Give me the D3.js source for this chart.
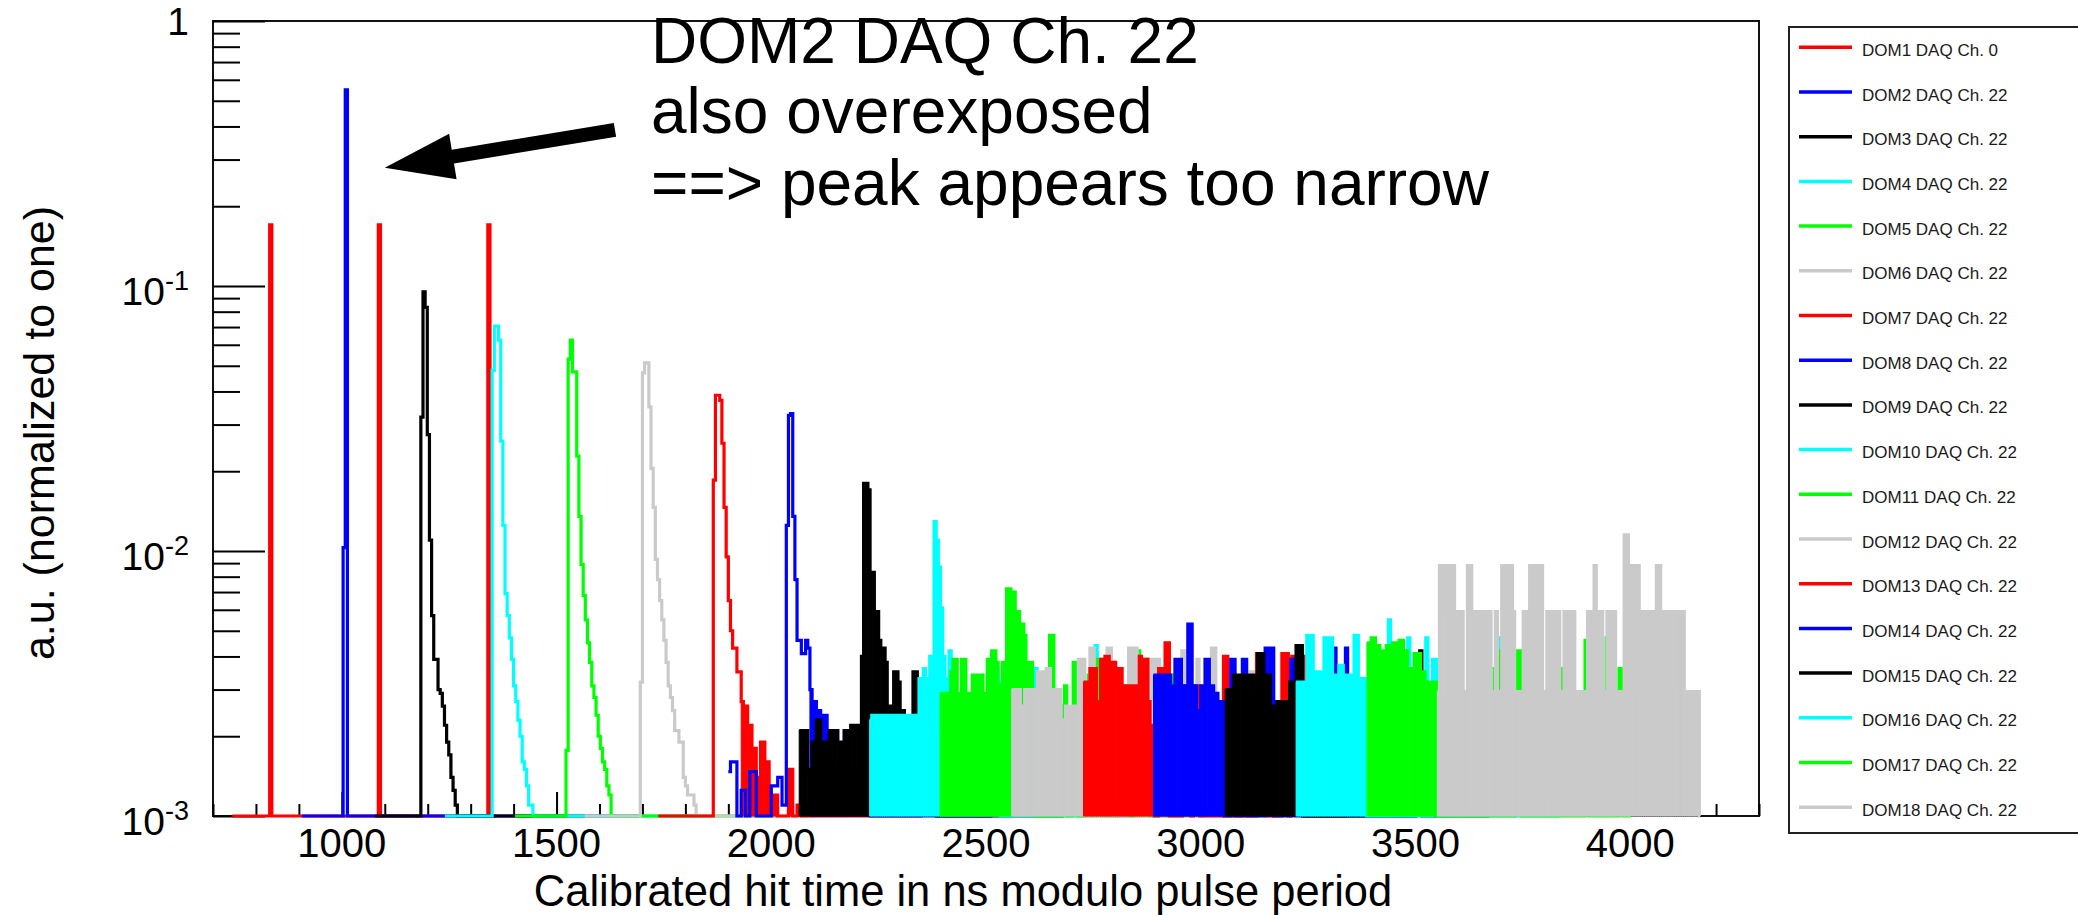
<!DOCTYPE html>
<html><head><meta charset="utf-8">
<script src="https://cdn.jsdelivr.net/npm/d3@7"></script>
<style>
html,body{margin:0;padding:0;background:#fff;}
svg{display:block;}
text{font-family:"Liberation Sans", Arial, Helvetica, sans-serif;}
</style></head><body>
<svg id="chart" width="2078" height="915"></svg>
<script>
// ---------------- DATA ----------------
const LEGEND_LABELS = ["DOM1 DAQ Ch. 0","DOM2 DAQ Ch. 22","DOM3 DAQ Ch. 22","DOM4 DAQ Ch. 22","DOM5 DAQ Ch. 22","DOM6 DAQ Ch. 22","DOM7 DAQ Ch. 22","DOM8 DAQ Ch. 22","DOM9 DAQ Ch. 22","DOM10 DAQ Ch. 22","DOM11 DAQ Ch. 22","DOM12 DAQ Ch. 22","DOM13 DAQ Ch. 22","DOM14 DAQ Ch. 22","DOM15 DAQ Ch. 22","DOM16 DAQ Ch. 22","DOM17 DAQ Ch. 22","DOM18 DAQ Ch. 22"];
const X_DOMAIN = [700, 4300];
const Y_DOMAIN = [1e-3, 1];
const X_TICK_LABELS = [1000, 1500, 2000, 2500, 3000, 3500, 4000];
const Y_TICK_LABELS = [[1, "1", ""], [0.1, "10", "-1"], [0.01, "10", "-2"], [0.001, "10", "-3"]];
const BIN_WIDTH = 5; // ns
// histogram x-range of each DOM [from, to] in ns
const RANGES = [[745,1360],[907,1522],[1077,1692],[1240,1855],[1403,2018],[1566,2181],[1737,2352],[1900,2515],[2065,2680],[2229,2844],[2393,3008],[2560,3175],[2727,3342],[2890,3505],[3057,3672],[3222,3837],[3387,4002],[3551,4163]];
// bin contents (a.u.): [first bin start ns, [values of consecutive 5 ns bins]]; bins not listed are empty
const DOM1 = [[832,[0.17]],[1085,[0.17]],[1340,[0.17]]];
const DOM2 = [[1003,[0.0103,0.55]]];
const DOM3 = [[1184,[0.032,0.095,0.083,0.0275,0.011,0.0057,0.0039,0.0039,0.0030,0.0029,0.0026,0.0022,0.0019,0.0017,0.0014,0.00125,0.0011]]];
const DOM4 = [[1350,[0.048,0.0706,0.0706,0.0625,0.026,0.0125,0.0069,0.0057,0.0047,0.0039,0.0031,0.0027,0.0023,0.0020,0.0016,0.0015,0.0013,0.0011,0.0011]]];
const DOM5 = [[1522,[0.00177,0.053,0.0625,0.0474,0.0474,0.0228,0.0135,0.0089,0.0068,0.0055,0.0045,0.0038,0.0031,0.0028,0.0024,0.0020,0.0018,0.0016,0.0015,0.0013,0.0012]]];
const DOM6 = [[1695,[0.0032,0.047,0.0513,0.0513,0.035,0.0205,0.0146,0.0093,0.0078,0.0065,0.0055,0.0046,0.0038,0.0031,0.0028,0.0025,0.0021,0.0021,0.0019,0.0019,0.0014,0.0013,0.0012,0.0012,0.0012,0.0011]]];
const DOM7 = [[1865,[0.0185,0.0387,0.0387,0.037,0.0255,0.0146,0.0095,0.0065,0.0050,0.0043,0.0043,0.0035,0.0035,0.0027,0.0026,0.0026,0.0022,0.0022,0.0018,0.0018,0.0014,0.0014,0.0019,0.0019,0.0016,0.0016,0.0012,0.0012,0.0012,0.0012]],[2040,[0.0015,0.0015,0,0,0.0011,0.0011]]];
const DOM8 = [[1900,[0.00147,0.0016,0.0016,0.0016,0,0,0.00125,0.00125,0,0,0.00147,0.00147,0.00147]],
  [2000,[0.0013,0.0013,0.0013,0.0014,0.0014,0.0011,0.0011,0.0125,0.0325,0.033,0.0135,0.0078,0.0046,0.0046,0.0041,0.0041,0.0046,0.0043,0.0030,0.0027,0.0027,0.0025,0.0025,0.0024,0.0024,0.0024,0.0018,0.0018,0.0016,0.0015,0.0015,0.0015,0.0015,0.0015,0.0021,0.0021,0.0015,0.0015,0.0015,0.0015,0.0015,0.0015,0.0021,0.0021,0.0021,0.0021]]];
const DOM9 = [[2065,[0.0021,0.0021,0.0021,0.0021,0.0015,0.0015,0.0019,0.0019,0.0023,0.0023,0.0019,0.0019,0.0019,0.0019,0.0021,0.0021,0.0019,0.0021,0.0019,0.0019,0.0019,0.0021,0.0021,0.0021,0.0022,0.0022,0.0022,0.0022,0.0022,0.0040,0.018,0.018,0.017,0.0083,0.0083,0.0059,0.0059,0.0046,0.0043,0.0043,0.0038,0.0026,0.0026,0.0025,0.0035,0.0035,0.0032,0.0025,0.0025,0.0021,0.0023,0.0023,0.0023,0.0035,0.0035,0.0021,0.0021,0.0021,0.0021,0.0021,0.0021,0.0021,0.0021,0.0021]]];
const DOM10 = [[2229,[0.0023,0.0024,0.0024,0.0021,0.0024,0.0024,0.0024,0.0022,0.0024,0.0024,0.0024,0.0024,0.0024,0.0021,0.0024,0.0024,0.0024,0.0024,0.0024,0.0024,0.0024,0.0021,0.0024,
  0.0033,0.0033,0.0036,0.0033,0.0033,0.0040,0.0040,0.0129,0.0110,0.0087,0.0061,0.0040,0.0033,0.0030,0.0042,0.0033,0.0030,
  0.0025,0.0025,0.0025,0.0025,0.0025,0.0025,0.0025,0.0025,0.0025,0.0025,0.0025,0.0025,0.0025,0.0025,0.0025,0.0025,0.0025,0.0025,0.0025,0.0036,0.0032]],[2614,[0.0036]],[2754,[0.0044]]];
const DOM11 = [[2393,[0.0029,0.0029,0.0029,0.0029,0.0029,0.0035,0.0039,0.0039,0.0029,0.0029,0.0039,0.0039,0.0029,0.0029,0.0029,0.0034,0.0029,0.0034,0.0029,0.0034,0.0029,0.0029,0.0039,0.0038,0.0042,0.0042,0.0038,0.0031,0.0031,0.0038,0.0038,0.0072,0.0072,0.0070,0.0070,0.0059,0.0059,0.0053,0.0053,0.0048,0.0038,0.0038,0.0038,0.0025]],
  [2648,[0.0048,0.0048]],[2678,[0.0026,0.0031]],[2703,[0.0038,0.0038]],[2738,[0.0034,0.0034]],[2758,[0.0039,0.0039]],[2788,[0.0038,0.0038]],[2818,[0.0031,0.0031]],[2853,[0.0042]],[2868,[0.0039,0.0039]],[2932,[0.0034]]];
const DOM12 = [[2560,[0.0030,0.0030,0.0030,0.0030,0.0026,0.0026,0.0030,0.0030,0.0030,0.0030,0.0030,0.0030,0.0035,0.0035,0.0035,0.0035,0.0036,0.0036,0.0026,0.0030,0.0026,0.0030,0.0030,0.0023,0.0023,0.0026,0.0026,0.0026,0.0026,0.0026,0.0026,0.0039,0.0039,0.0039]],
  [2742,[0.0043,0.0043]],[2782,[0.0043,0.0043]],[2832,[0.0043,0.0043,0.0043,0.0043]],[2874,[0.0039,0.0039,0.0039,0.0039,0.0039,0.0039]],[2956,[0.0042,0.0042]],[2991,[0.0039]],[3025,[0.0043,0.0043]],[3115,[0.0035,0.0035,0.0035]]];
const DOM13 = [[2727,[0.0032,0.0032,0.0032,0.0036,0.0036,0.0036,0.0027,0.0027,0.0039,0.0039,0.0040,0.0040,0.0034,0.0038,0.0038,0.0031,0.0036,0.0036,0.0029,0.0031,0.0031,0.0031,0.0027,0.0031,0.0031,0.0031,0.0040,0.0039,0.0039,0.0039,0.0027,0.0022,0.0022]],
  [2902,[0.0036,0.0036,0.0036,0.0045,0.0045]],[2957,[0.0031,0.0031,0.0031,0.0031]],[2983,[0.0031,0.0031,0.0031]],[3053,[0.0040,0.0040]],[3130,[0.0041,0.0041,0.0041,0.0041,0.0041]],[3189,[0.0041,0.0041,0.0041]],[3212,[0.0040,0.0040,0.0040,0.0040,0.0040,0.0040]]];
const DOM14 = [[2890,[0.0034,0.0034,0.0034,0.0034,0.0034,0.0034,0.0034,0.0034,0.0031,0.0031,0.0039,0.0039,0.0039,0.0031,0.0031,0.0031,0.0053,0.0053,0.0031,0.0031,0.0025,0.0025,0.0031,0.0031,0.0039,0.0039,0.0031,0.0031,0.0029,0.0029,0.0027,0.0027,0.0027]],
  [3070,[0.0039,0.0039]],[3097,[0.0039,0.0039]],[3150,[0.0043,0.0043,0.0043,0.0043]],[3210,[0.0039,0.0039]],[3310,[0.0043]],[3337,[0.0043]]];
const DOM15 = [[3057,[0.0030,0.0030,0.0030,0.0030,0.0034,0.0034,0.0034,0.0034,0.0034,0.0034,0.0034,0.0034,0.0034,0.0034,0.0034,0.0041,0.0041,0.0041,0.0034,0.0034,0.0034,0.0026,0.0026,0.0026,0.0027,0.0027,0.0027,0.0027,0.0027,0.0027,0.0032,0.0032,0.0032,0.0044,0.0044,0.0044]],
  [3375,[0.0030]],[3500,[0.0036,0.0036,0.0042]]];
const DOM16 = [[3222,[0.0032,0.0032,0.0032,0.0032,0.0032,0.0048,0.0048,0.0048,0.0035,0.0035,0.0035,0.0035,0.0035,0.0047,0.0047,0.0047,0.0047,0.0034,0.0034,0.0034,0.0037,0.0037,0.0034,0.0034,0.0034,0.0034,0.0034,0.0048,0.0048,0.0033,0.0033,0.0033,0.0033]],
  [3437,[0.0055]],[3482,[0.0047]],[3524,[0.0047]],[3540,[0.0039,0.0039]],[3697,[0.0047]],[3764,[0.0039]],[3782,[0.0055]],[3808,[0.0033]]];
const DOM17 = [[3387,[0.0045,0.0045,0.0047,0.0047,0.0044,0.0044,0.0042,0.0042,0.0042,0.0044,0.0044,0.0044,0.0045,0.0045,0.0041,0.0046,0.0046,0.0042,0.0042,0.0036,0.0036,0.0036,0.0041,0.0041,0.0041,0.0035,0.0035,0.0032,0.0032,0.0032,0.0032,0.0032,0.0032]],
  [3683,[0.0036]],[3696,[0.0042]],[3732,[0.0042,0.0042,0.0042]],[3841,[0.0036]],[3895,[0.0046,0.0046]],[3944,[0.0047]],[3974,[0.0036,0.0036]]];
const DOM18 = [[3551,[
  0.00295,0.0088,0.0088,0.0088,0.0059,0.0088,0.0088,0.0088,0.0059,0.0059,
  0.0059,0.0059,0.00295,0.00295,0.0088,0.0088,0.0059,0.0059,0.0059,0.0059,
  0.0059,0.0059,0.00295,0.0059,0.0059,0.00295,0.00295,0.0059,0.00295,0.00295,
  0.0088,0.0088,0.00295,0.0088,0.0088,0.0059,0.00295,0.00295,0.00295,0.00295,
  0.0059,0.0059,0.00295,0.0088,0.0088,0.0088,0.00295,0.0088,0.0088,0.00295,
  0.00295,0.0059,0.0059,0.0059,0.00295,0.0059,0.0059,0.00295,0.00295,0.0059,
  0.0059,0.00295,0.0059,0.0059,0.00295,0.00295,0.00295,0.00295,0.00295,0.00295,
  0.0059,0.0059,0.0059,0.0088,0.0059,0.0059,0.0059,0.00295,0.00295,0.0059,
  0.0059,0.0059,0.0059,0.00295,0.00295,0.00295,0.00295,0.0115,0.0115,0.0088,
  0.0088,0.00295,0.0088,0.0088,0.0059,0.0059,0.0059,0.00295,0.0059,0.0059,
  0.0059,0.0059,0.0088,0.0088,0.00295,0.0059,0.0059,0.00295,0.0059,0.00295,
  0.0059,0.0059,0.0059,0.0059,0.0059,0.00295,0.00295,0.00295,0.00295,0.00295,
  0.00295,0.00295]]];
const SERIES = [DOM1,DOM2,DOM3,DOM4,DOM5,DOM6,DOM7,DOM8,DOM9,DOM10,DOM11,DOM12,DOM13,DOM14,DOM15,DOM16,DOM17,DOM18];
const ANNOTATION_LINES = ["DOM2 DAQ Ch. 22", "also overexposed", "==> peak appears too narrow"];
const ARROW_FROM = [1636, 0.388];   // data coords (ns, a.u.)
const ARROW_TO = [1100, 0.2795];
const AXIS_TITLE_X = "Calibrated hit time in ns modulo pulse period";
const AXIS_TITLE_Y = "a.u. (normalized to one)";

// ---------------- STYLE / LAYOUT ----------------
const PALETTE = ["#ff0000","#0000ff","#000000","#00ffff","#00ff00","#cacaca"];
// how the dense (sparse-count) regions appear filled: none / tail (low level after peak) / all
const SOLID_MODE = ["none","none","none","none","none","none","tail","tail","all","all","all","all","all","all","all","all","all","all"];
const LOW_LEVEL = 0.0033;
const LINE_W = 3.2;
const F = {left: 213, right: 1759, top: 21, bottom: 816};

const svg = d3.select("#chart");
const x = d3.scaleLinear().domain(X_DOMAIN).range([F.left, F.right]);
const y = d3.scaleLog().domain(Y_DOMAIN).range([F.bottom, F.top]);

// frame
svg.append("rect").attr("x", F.left).attr("y", F.top).attr("width", F.right - F.left).attr("height", F.bottom - F.top)
  .attr("fill", "none").attr("stroke", "#111").attr("stroke-width", 2);

// y axis ticks
const yMajor = Y_TICK_LABELS.map(d => d[0]);
const yAll = y.ticks();
const yMinor = yAll.filter(v => !yMajor.some(m => Math.abs(Math.log10(v / m)) < 1e-6));
function styleAxis(g) { g.select(".domain").remove(); g.selectAll("line").attr("stroke", "#000").attr("stroke-width", 2); g.selectAll("text").remove(); }
svg.append("g").attr("transform", `translate(${F.left},0)`).call(d3.axisLeft(y).tickValues(yMinor).tickSize(-27)).call(styleAxis);
svg.append("g").attr("transform", `translate(${F.left},0)`).call(d3.axisLeft(y).tickValues(yMajor).tickSize(-52)).call(styleAxis);

// x axis ticks
const xMinor = d3.range(X_DOMAIN[0], X_DOMAIN[1] + 1, 100).filter(v => !X_TICK_LABELS.includes(v));
svg.append("g").attr("transform", `translate(0,${F.bottom})`).call(d3.axisBottom(x).tickValues(xMinor).tickSize(-12)).call(styleAxis);
svg.append("g").attr("transform", `translate(0,${F.bottom})`).call(d3.axisBottom(x).tickValues(X_TICK_LABELS).tickSize(-24)).call(styleAxis);

// tick labels
svg.append("g").selectAll("text").data(X_TICK_LABELS).join("text")
  .attr("x", d => x(d)).attr("y", 857).attr("text-anchor", "middle").attr("font-size", 40).attr("fill", "#000").text(d => d);
const yl = svg.append("g").selectAll("text").data(Y_TICK_LABELS).join("text")
  .attr("x", 189).attr("y", d => y(d[0]) + (d[2] ? 19 : 14)).attr("text-anchor", "end").attr("font-size", 39).attr("fill", "#000");
yl.append("tspan").text(d => d[1]);
yl.append("tspan").attr("dy", d => d[2] ? -15 : 0).attr("font-size", 27).text(d => d[2]);

// axis titles
svg.append("text").attr("x", 963).attr("y", 906).attr("text-anchor", "middle").attr("font-size", 43.5).attr("fill", "#000").text(AXIS_TITLE_X);
svg.append("text").attr("transform", "translate(54,433) rotate(-90)").attr("text-anchor", "middle").attr("font-size", 43).attr("fill", "#000").text(AXIS_TITLE_Y);

// histograms
svg.append("clipPath").attr("id", "clip").append("rect").attr("x", F.left).attr("y", F.top).attr("width", F.right - F.left).attr("height", F.bottom - F.top + 3);
const plot = svg.append("g").attr("clip-path", "url(#clip)");

function buildBins(i) {
  const [rs, re] = RANGES[i];
  const segs = SERIES[i].slice().sort((a, b) => a[0] - b[0]);
  const out = [];
  let cur = rs;
  segs.forEach(([s, vals]) => {
    if (s > cur) out.push({x0: cur, x1: s, v: 0});
    vals.forEach((v, k) => {
      const a = s + k * BIN_WIDTH;
      if (a >= cur - 1e-9) out.push({x0: a, x1: a + BIN_WIDTH, v: v});
    });
    cur = Math.max(cur, s + vals.length * BIN_WIDTH);
  });
  if (cur < re) out.push({x0: cur, x1: re, v: 0});
  return out;
}

const yBottom = y(Y_DOMAIN[0]);
SERIES.forEach((segs, i) => {
  const bins = buildBins(i);
  const col = PALETTE[i % PALETTE.length];
  const mode = SOLID_MODE[i];
  let peak = 0; bins.forEach((b, j) => { if (b.v > bins[peak].v) peak = j; });
  const solid = bins.filter((b, j) => b.v > 0 && (mode === "all" || (mode === "tail" && j > peak && b.v <= LOW_LEVEL)));
  plot.append("g").selectAll("rect").data(solid).join("rect")
    .attr("x", b => x(b.x0)).attr("width", b => x(b.x1) - x(b.x0))
    .attr("y", b => y(b.v)).attr("height", b => yBottom - y(b.v))
    .attr("fill", col).attr("stroke", col).attr("stroke-width", 1);
  const pts = [];
  bins.forEach(b => {
    const yy = b.v > 0 ? y(Math.max(b.v, Y_DOMAIN[0])) : yBottom;
    pts.push([x(b.x0), yy], [x(b.x1), yy]);
  });
  plot.append("path").attr("d", d3.line()(pts)).attr("fill", "none").attr("stroke", col)
    .attr("stroke-width", LINE_W).attr("stroke-linejoin", "miter");
});

// legend
const LEG = {x: 1789, y: 27, h: 806, first: 47.3, step: 44.7};
svg.append("rect").attr("x", LEG.x).attr("y", LEG.y).attr("width", 400).attr("height", LEG.h)
  .attr("fill", "#fff").attr("stroke", "#222").attr("stroke-width", 2);
const lg = svg.append("g").selectAll("g").data(LEGEND_LABELS).join("g")
  .attr("transform", (d, i) => `translate(0,${LEG.first + i * LEG.step})`);
lg.append("line").attr("x1", 1799).attr("x2", 1852).attr("y1", 0).attr("y2", 0)
  .attr("stroke", (d, i) => PALETTE[i % PALETTE.length]).attr("stroke-width", 3.5);
lg.append("text").attr("x", 1862).attr("y", 8.5).attr("font-size", 17).attr("fill", "#1a1a1a").text(d => d);

// annotation
svg.append("g").selectAll("text").data(ANNOTATION_LINES).join("text")
  .attr("x", 651).attr("y", (d, i) => [63, 133, 205][i]).attr("font-size", 64).attr("fill", "#000").text(d => d);
(function arrow() {
  const t = [x(ARROW_FROM[0]), y(ARROW_FROM[1])];
  const p = [x(ARROW_TO[0]), y(ARROW_TO[1])];
  const dx = p[0] - t[0], dy = p[1] - t[1], len = Math.hypot(dx, dy);
  const u = [dx / len, dy / len], n = [-u[1], u[0]];
  const headLen = 69, headW = 23, shaftW = 7;
  const b = [p[0] - u[0] * headLen, p[1] - u[1] * headLen];
  const P = (q, s) => [q[0] + n[0] * s, q[1] + n[1] * s];
  const poly = [P(t, shaftW), P(b, shaftW), P(b, headW), p, P(b, -headW), P(b, -shaftW), P(t, -shaftW)];
  svg.append("path").attr("d", d3.line()(poly) + "Z").attr("fill", "#000");
})();
</script></body></html>
